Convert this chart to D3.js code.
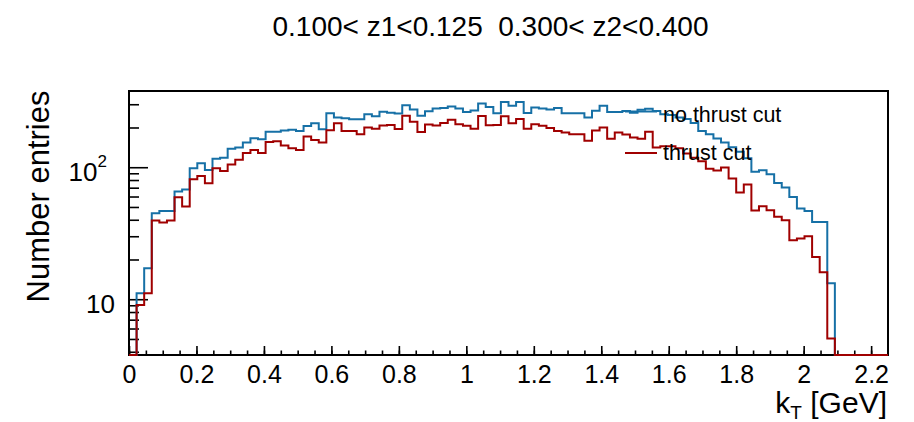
<!DOCTYPE html>
<html><head><meta charset="utf-8">
<script src="https://cdn.jsdelivr.net/npm/d3@7"></script>
<style>
body{margin:0;background:#fff}
svg text{font-family:"Liberation Sans",Arial,Helvetica,sans-serif;fill:#000;white-space:pre}
</style>
</head><body><svg id="c" width="914" height="422"></svg>
<script>
// ---------------- data ----------------
const titleText = "0.100< z1<0.125  0.300< z2<0.400";
const yLabelText = "Number entries";
const xLabelMain = "k", xLabelSub = "T", xLabelUnit = " [GeV]";
const seriesNames = ["no thrust cut", "thrust cut"];
const seriesColors = ["#1670a6", "#a00000"];
const kTRange = [0, 2.25];
const binWidth = 0.0225;
const xTickValues = [0, 0.2, 0.4, 0.6, 0.8, 1, 1.2, 1.4, 1.6, 1.8, 2, 2.2];
const xTickLabels = ["0", "0.2", "0.4", "0.6", "0.8", "1", "1.2", "1.4", "1.6", "1.8", "2", "2.2"];
const yTickValues = [10, 100];
const yTickBase = ["10", "10"];
const yTickExp = ["", "2"];
const yMinorValues = [4, 5, 6, 7, 8, 9, 20, 30, 40, 50, 60, 70, 80, 90, 200, 300];
const yDomain = [3.78, 378];

const noThrustCut = [
  0, 11.1, 17.2, 44.8, 46.7, 46.7, 65.5, 67.8, 98.3, 107,
  95.4, 116, 118, 138, 141, 154, 166, 163, 186, 186,
  190, 192, 188, 205, 215, 194, 256, 238, 235, 231,
  231, 252, 243, 263, 259, 255, 295, 274, 246, 265,
  279, 281, 289, 279, 262, 269, 304, 286, 256, 312,
  292, 312, 258, 283, 279, 274, 281, 256, 256, 256,
  238, 268, 292, 262, 262, 267, 259, 272, 277, 267,
  252, 249, 238, 232, 216, 188, 178, 165, 154, 142,
  131, 117, 92.5, 94.9, 88.5, 76, 70.2, 59.6, 48.7, 46.7,
  38.5, 38.5, 13.2, 0, 0, 0, 0, 0, 0, 0
];
const thrustCut = [
  0, 9.06, 11.1, 39.4, 38.1, 39.4, 59.3, 50.4, 81.1, 85.9,
  75.7, 98.3, 93.7, 105, 114, 128, 135, 128, 155, 157,
  146, 139, 135, 171, 161, 154, 191, 215, 188, 188,
  178, 200, 196, 207, 209, 195, 245, 221, 185, 211,
  207, 216, 229, 212, 206, 196, 244, 208, 209, 243,
  215, 232, 196, 212, 206, 198, 188, 183, 178, 178,
  159, 190, 200, 164, 183, 177, 168, 164, 186, 141,
  144, 144, 139, 127, 118, 111, 97.2, 94.6, 99.5, 82.2,
  64.3, 73.9, 47, 50.7, 47.2, 42.2, 39.6, 28, 28.8, 30,
  20.9, 16, 5.04, 0, 0, 0, 0, 0, 0, 0
];

// ---------------- layout ----------------
const M = {left: 129, right: 888, top: 91, bottom: 355};
const svg = d3.select("#c");
svg.append("rect").attr("width", 914).attr("height", 422).attr("fill", "#fff");

const x = d3.scaleLinear().domain(kTRange).range([M.left, M.right]);
const y = d3.scaleLog().domain(yDomain).range([M.bottom, M.top]).clamp(true);
const yv = v => (v > yDomain[0] ? y(v) : M.bottom);

// title
svg.append("text").attr("x", 490.5).attr("y", 36).attr("text-anchor", "middle")
  .attr("font-size", 28).text(titleText);

// axes: x minor, x major
const xMinor = d3.range(0, 45).map(i => i * 0.05);
const gxMinor = svg.append("g").attr("transform", `translate(0,${M.bottom})`)
  .call(d3.axisBottom(x).tickValues(xMinor).tickSize(-4.5).tickFormat(""));
gxMinor.select(".domain").remove();
const gx = svg.append("g").attr("transform", `translate(0,${M.bottom})`)
  .call(d3.axisBottom(x).tickValues(xTickValues).tickSize(-9).tickFormat((d, i) => xTickLabels[i]));
gx.select(".domain").remove();
gx.attr("font-family", null).attr("font-size", null);
gx.selectAll(".tick text").attr("y", 28).attr("dy", null).attr("font-size", 25);
[gxMinor, gx].forEach(g => g.selectAll("line").attr("stroke", "#000").attr("stroke-width", 1.6));

// y minor, y major
const gyMinor = svg.append("g").attr("transform", `translate(${M.left},0)`)
  .call(d3.axisLeft(y).tickValues(yMinorValues).tickSize(-10).tickFormat(""));
gyMinor.select(".domain").remove();
const gy = svg.append("g").attr("transform", `translate(${M.left},0)`)
  .call(d3.axisLeft(y).tickValues(yTickValues).tickSize(-19).tickFormat(""));
gy.select(".domain").remove();
[gyMinor, gy].forEach(g => g.selectAll("line").attr("stroke", "#000").attr("stroke-width", 1.6));

// y tick labels (with exponent)
const yl = svg.append("g").selectAll("text").data(yTickValues).join("text")
  .attr("x", (d, i) => yTickExp[i] ? M.left - 22 : M.left - 14)
  .attr("y", d => y(d) + 13.5)
  .attr("text-anchor", "end").attr("font-size", 26);
yl.append("tspan").text((d, i) => yTickBase[i]);
yl.append("tspan").attr("font-size", 17).attr("dy", -14).text((d, i) => yTickExp[i]);

// frame
svg.append("rect").attr("x", M.left).attr("y", M.top)
  .attr("width", M.right - M.left).attr("height", M.bottom - M.top)
  .attr("fill", "none").attr("stroke", "#000").attr("stroke-width", 2);

// y label
svg.append("text").attr("transform", "translate(48.5,196.5) rotate(-90)")
  .attr("text-anchor", "middle").attr("font-size", 31).text(yLabelText);

// x label
const xl = svg.append("text").attr("x", 887).attr("y", 413).attr("text-anchor", "end").attr("font-size", 30);
xl.append("tspan").text(xLabelMain);
xl.append("tspan").attr("font-size", 19).attr("dy", 5.5).text(xLabelSub);
xl.append("tspan").attr("dy", -5.5).text(xLabelUnit);

// legend lines (drawn under the histograms)
const legY = [111.5, 153];
const legBase = [121.5, 160];
seriesNames.forEach((name, i) => {
  svg.append("line").attr("x1", 625).attr("x2", 657).attr("y1", legY[i]).attr("y2", legY[i])
    .attr("stroke", seriesColors[i]).attr("stroke-width", 2);
});

// histograms
const line = d3.line().curve(d3.curveStepAfter);
function histPoints(vals) {
  const pts = vals.map((v, i) => [x(kTRange[0] + i * binWidth), yv(v)]);
  pts.push([x(kTRange[0] + vals.length * binWidth), yv(vals[vals.length - 1])]);
  return pts;
}
[noThrustCut, thrustCut].forEach((vals, i) => {
  svg.append("path").attr("d", line(histPoints(vals)))
    .attr("fill", "none").attr("stroke", seriesColors[i]).attr("stroke-width", 2);
});

// legend text
seriesNames.forEach((name, i) => {
  svg.append("text").attr("x", 663).attr("y", legBase[i]).attr("font-size", 21.5).text(name);
});
</script>
</body></html>
